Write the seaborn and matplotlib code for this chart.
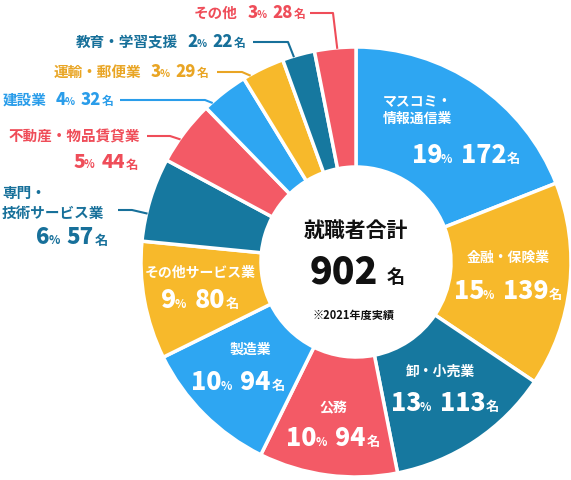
import numpy as np
import seaborn as sns
import matplotlib.pyplot as plt
from matplotlib.offsetbox import TextArea, HPacker, AnnotationBbox

# data (clockwise from 12 o'clock)
industries = ["マスコミ・\n情報通信業", "金融・保険業", "卸・小売業", "公務", "製造業",
              "その他サービス業", "専門・\n技術サービス業", "不動産・物品賃貸業", "建設業",
              "運輸・郵便業", "教育・学習支援", "その他"]
percents = [19, 15, 13, 10, 10, 9, 6, 5, 4, 3, 2, 3]
counts = [172, 139, 113, 94, 94, 80, 57, 44, 32, 29, 22, 28]
total_label = "902"
center_title = "就職者合計"
year_note = "※2021年度実績"

sns.set_theme(style="white")
plt.rcParams['font.family'] = ['Noto Sans CJK JP', 'DejaVu Sans']

base = ["#2EA6F2", "#F7B92B", "#16789F", "#F35A66"]
colors = sns.color_palette(base * 3)
text_cols = {"blue": "#2A9DEA", "yellow": "#E9A524", "teal": "#17709A", "red": "#EF4D59"}
kind = ["blue", "yellow", "teal", "red"] * 3

W, H = 571, 480
fig = plt.figure(figsize=(W / 100, H / 100), dpi=100)
ax = fig.add_axes([0, 0, 1, 1])
cx, cy = 356, H - 262
R = 215
wedges, _ = ax.pie(counts, colors=colors, startangle=90, counterclock=False,
                   radius=R, center=(cx, cy),
                   wedgeprops=dict(width=120, edgecolor="white", linewidth=2.5))
ax.set_xlim(0, W)
ax.set_ylim(0, H)
ax.set_aspect("equal")
ax.axis("off")


def P(x, y):
    return (x, H - y)


def ta(s, fs, color, weight="bold"):
    return TextArea(s, textprops=dict(color=color, fontsize=fs, fontweight=weight))


def num_box(pct, cnt, color, big, small, unit, gap=6):
    a = HPacker(children=[ta(str(pct), big, color, "heavy"), ta("%", small, color)],
                align="baseline", pad=0, sep=-1)
    b = HPacker(children=[ta(str(cnt), big, color, "heavy"), ta("名", unit, color)],
                align="baseline", pad=0, sep=0.5)
    return HPacker(children=[a, b], align="baseline", pad=0, sep=gap)


def place(box, xy, align=(0.5, 0.5)):
    ax.add_artist(AnnotationBbox(box, P(*xy), xycoords="data", frameon=False,
                                 box_alignment=align, pad=0))


# inside labels: (index, name xy, number xy, name align)
inside = [
    (0, (383, 110), (466, 155), "left"),
    (1, (508, 258), (508, 291), "center"),
    (2, (440, 372), (445, 403), "center"),
    (3, (333, 408), (333, 438), "center"),
    (4, (250, 350), (238, 382), "center"),
    (5, (200, 273), (200, 300), "center"),
]
for i, nxy, pxy, ha in inside:
    ax.text(*P(*nxy), industries[i], color="white", fontsize=10, fontweight="bold",
            ha=ha, va="center", linespacing=1.25)
    place(num_box(percents[i], counts[i], "white", 18, 8.5, 9.5), pxy)

# outside single-line labels: (index, right end x, y)
single = [(11, 305, 13), (10, 245, 42), (9, 208, 72), (8, 113, 100)]
for i, xr, y in single:
    c = text_cols[kind[i]]
    box = HPacker(children=[ta(industries[i], 10.5, c),
                            num_box(percents[i], counts[i], c, 12, 7.5, 8.5, gap=4)],
                  align="baseline", pad=0, sep=7)
    place(box, (xr, y), (1, 0.5))

# 不動産
c = text_cols[kind[7]]
place(HPacker(children=[ta(industries[7], 10.5, c)], pad=0, sep=0), (140, 136), (1, 0.5))
place(num_box(percents[7], counts[7], c, 14, 8, 9, gap=5), (138, 163), (1, 0.5))

# 専門
c = text_cols[kind[6]]
ax.text(*P(2, 203), industries[6], color=c, fontsize=10.5, fontweight="bold",
        ha="left", va="center", linespacing=1.25)
place(num_box(percents[6], counts[6], c, 16, 8.5, 9.5, gap=5), (108, 238), (1, 0.5))

# leader lines: (index, x start, x knee, y, fraction along wedge)
leaders = [(11, 310, 333, 13, 0.55), (10, 253, 288, 42, 0.35), (9, 217, 242, 72, 0.17),
           (8, 120, 205, 100, 0.17), (7, 147, 170, 136, 0.38), (6, 118, 132, 210, 0.33)]
tot = sum(counts)
cum = np.concatenate([[0], np.cumsum(counts)])
for i, xs, xk, y, f in leaders:
    a = np.deg2rad((cum[i] + f * counts[i]) / tot * 360)
    ex, ey = cx + (R - 1) * np.sin(a), cy + (R - 1) * np.cos(a)
    ax.plot([xs, xk, ex], [H - y, H - y, ey], color=text_cols[kind[i]], lw=1.5,
            solid_capstyle="butt")

# center
ax.text(*P(356, 230), center_title, fontsize=15, fontweight="bold", color="#111111",
        ha="center", va="center")
tb = HPacker(children=[ta(total_label, 27, "#111111", "heavy"), ta("名", 13, "#111111")],
             align="baseline", pad=0, sep=6)
place(tb, (357, 272))
ax.text(*P(354, 315), year_note, fontsize=8, fontweight="bold", color="#111111",
        ha="center", va="center")

fig.savefig("out.png", dpi=100)
